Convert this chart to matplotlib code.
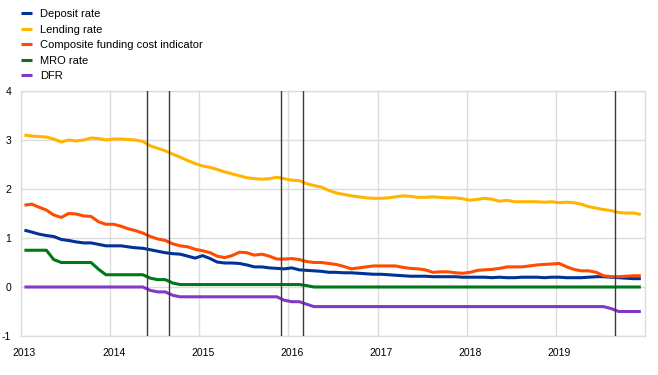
# -*- coding: utf-8 -*-
# Bank lending / deposit rates vs ECB policy rates, 2013-2019

import matplotlib
matplotlib.use("Agg")
import matplotlib.pyplot as plt
import matplotlib.transforms as mtransforms
import pandas as pd

plt.rcParams['font.family'] = ['Liberation Sans', 'DejaVu Sans']
plt.rcParams['axes.unicode_minus'] = False

# monthly observations, Jan 2013 .. Dec 2019 (one row per year)
deposit_rate = [
    1.16, 1.12, 1.08, 1.05, 1.03, 0.97, 0.95, 0.92, 0.90, 0.90, 0.87, 0.84,
    0.84, 0.84, 0.82, 0.80, 0.79, 0.76, 0.73, 0.70, 0.68, 0.67, 0.63, 0.59,
    0.64, 0.58, 0.51, 0.49, 0.49, 0.48, 0.45, 0.41, 0.41, 0.39, 0.38, 0.37,
    0.39, 0.35, 0.34, 0.33, 0.32, 0.30, 0.30, 0.29, 0.29, 0.28, 0.27, 0.26,
    0.26, 0.25, 0.24, 0.23, 0.22, 0.22, 0.22, 0.21, 0.21, 0.21, 0.21, 0.20,
    0.20, 0.20, 0.20, 0.19, 0.20, 0.19, 0.19, 0.20, 0.20, 0.20, 0.19, 0.20,
    0.20, 0.19, 0.19, 0.19, 0.20, 0.21, 0.21, 0.20, 0.19, 0.18, 0.17, 0.17,
]
lending_rate = [
    3.10, 3.08, 3.07, 3.06, 3.02, 2.96, 3.00, 2.98, 3.00, 3.04, 3.03, 3.00,
    3.02, 3.02, 3.01, 3.00, 2.97, 2.88, 2.83, 2.78, 2.71, 2.65, 2.58, 2.52,
    2.47, 2.44, 2.40, 2.35, 2.31, 2.27, 2.23, 2.21, 2.20, 2.21, 2.24, 2.21,
    2.18, 2.17, 2.11, 2.07, 2.04, 1.97, 1.92, 1.89, 1.86, 1.84, 1.82, 1.81,
    1.81, 1.82, 1.84, 1.86, 1.85, 1.83, 1.83, 1.84, 1.83, 1.82, 1.82, 1.80,
    1.77, 1.79, 1.81, 1.79, 1.75, 1.77, 1.74, 1.74, 1.74, 1.74, 1.73, 1.74,
    1.72, 1.73, 1.72, 1.69, 1.64, 1.61, 1.58, 1.56, 1.52, 1.51, 1.51, 1.48,
]
composite_cost = [
    1.67, 1.69, 1.63, 1.57, 1.47, 1.42, 1.50, 1.49, 1.45, 1.44, 1.33, 1.28,
    1.28, 1.24, 1.19, 1.15, 1.10, 1.03, 0.98, 0.95, 0.88, 0.84, 0.82, 0.77,
    0.74, 0.70, 0.63, 0.60, 0.64, 0.71, 0.70, 0.65, 0.67, 0.63, 0.57, 0.57,
    0.58, 0.56, 0.52, 0.50, 0.50, 0.48, 0.46, 0.42, 0.37, 0.39, 0.41, 0.43,
    0.43, 0.43, 0.43, 0.40, 0.38, 0.37, 0.35, 0.30, 0.31, 0.31, 0.29, 0.28,
    0.30, 0.34, 0.35, 0.36, 0.38, 0.41, 0.41, 0.41, 0.43, 0.45, 0.46, 0.47,
    0.48, 0.41, 0.36, 0.33, 0.33, 0.30, 0.23, 0.21, 0.21, 0.22, 0.23, 0.23,
]
mro_rate = [
    0.75, 0.75, 0.75, 0.75, 0.56, 0.50, 0.50, 0.50, 0.50, 0.50, 0.36, 0.25,
    0.25, 0.25, 0.25, 0.25, 0.25, 0.18, 0.15, 0.15, 0.08, 0.05, 0.05, 0.05,
    0.05, 0.05, 0.05, 0.05, 0.05, 0.05, 0.05, 0.05, 0.05, 0.05, 0.05, 0.05,
    0.05, 0.05, 0.03, 0.00, 0.00, 0.00, 0.00, 0.00, 0.00, 0.00, 0.00, 0.00,
    0.00, 0.00, 0.00, 0.00, 0.00, 0.00, 0.00, 0.00, 0.00, 0.00, 0.00, 0.00,
    0.00, 0.00, 0.00, 0.00, 0.00, 0.00, 0.00, 0.00, 0.00, 0.00, 0.00, 0.00,
    0.00, 0.00, 0.00, 0.00, 0.00, 0.00, 0.00, 0.00, 0.00, 0.00, 0.00, 0.00,
]
dfr = [
    0.00, 0.00, 0.00, 0.00, 0.00, 0.00, 0.00, 0.00, 0.00, 0.00, 0.00, 0.00,
    0.00, 0.00, 0.00, 0.00, 0.00, -0.07, -0.10, -0.10, -0.17, -0.20, -0.20, -0.20,
    -0.20, -0.20, -0.20, -0.20, -0.20, -0.20, -0.20, -0.20, -0.20, -0.20, -0.20, -0.27,
    -0.30, -0.30, -0.35, -0.40, -0.40, -0.40, -0.40, -0.40, -0.40, -0.40, -0.40, -0.40,
    -0.40, -0.40, -0.40, -0.40, -0.40, -0.40, -0.40, -0.40, -0.40, -0.40, -0.40, -0.40,
    -0.40, -0.40, -0.40, -0.40, -0.40, -0.40, -0.40, -0.40, -0.40, -0.40, -0.40, -0.40,
    -0.40, -0.40, -0.40, -0.40, -0.40, -0.40, -0.40, -0.44, -0.50, -0.50, -0.50, -0.50,
]

# policy announcement months marked with vertical lines
event_months = ['2014-06-01', '2014-09-01', '2015-12-01', '2016-03-01', '2019-09-01']
year_labels = ['2013', '2014', '2015', '2016', '2017', '2018', '2019']

series = [
    ('Deposit rate', deposit_rate, '#003299'),
    ('Lending rate', lending_rate, '#FFB400'),
    ('Composite funding cost indicator', composite_cost, '#FF4B00'),
    ('MRO rate', mro_rate, '#007816'),
    ('DFR', dfr, '#8139C6'),
]

dates = pd.date_range('2013-01-01', periods=len(deposit_rate), freq='MS') + pd.Timedelta(days=14)

fig = plt.figure(figsize=(6.58, 3.75), dpi=100)
ax = fig.add_axes([21 / 658, 39 / 375, 624 / 658, 245 / 375])

for name, vals, col in series:
    ax.plot(dates, vals, color=col, lw=2.2, label=name, solid_capstyle='butt', zorder=3)

for d in event_months:
    ax.axvline(pd.Timestamp(d), color='#3a3a3a', lw=1.0, zorder=4)

ax.set_xlim(pd.Timestamp('2013-01-01'), pd.Timestamp('2020-01-01'))
ax.set_ylim(-1, 4)
ax.set_yticks(range(-1, 5))
ax.set_xticks([pd.Timestamp(y + '-01-01') for y in year_labels])
ax.set_xticklabels(year_labels)

ax.grid(True, color='#dcdcdc', lw=1.0, zorder=0)
ax.set_axisbelow(True)
for s in ax.spines.values():
    s.set_color('#dcdcdc')
    s.set_linewidth(1.0)
ax.tick_params(length=0, labelsize=7.5, colors='#000000')
ax.tick_params(axis='x', pad=9)
ax.tick_params(axis='y', pad=7)

# x labels sit slightly right of the year gridlines
offset = mtransforms.ScaledTranslation(0.035, 0, fig.dpi_scale_trans)
for lbl in ax.get_xticklabels():
    lbl.set_transform(lbl.get_transform() + offset)

fig.legend(loc='upper left', bbox_to_anchor=(21 / 658, 1 - 9 / 375), frameon=False,
           fontsize=8, handlelength=1.0, handletextpad=0.7, labelspacing=0.5,
           borderpad=0, borderaxespad=0)

fig.savefig('out.png', dpi=100)
